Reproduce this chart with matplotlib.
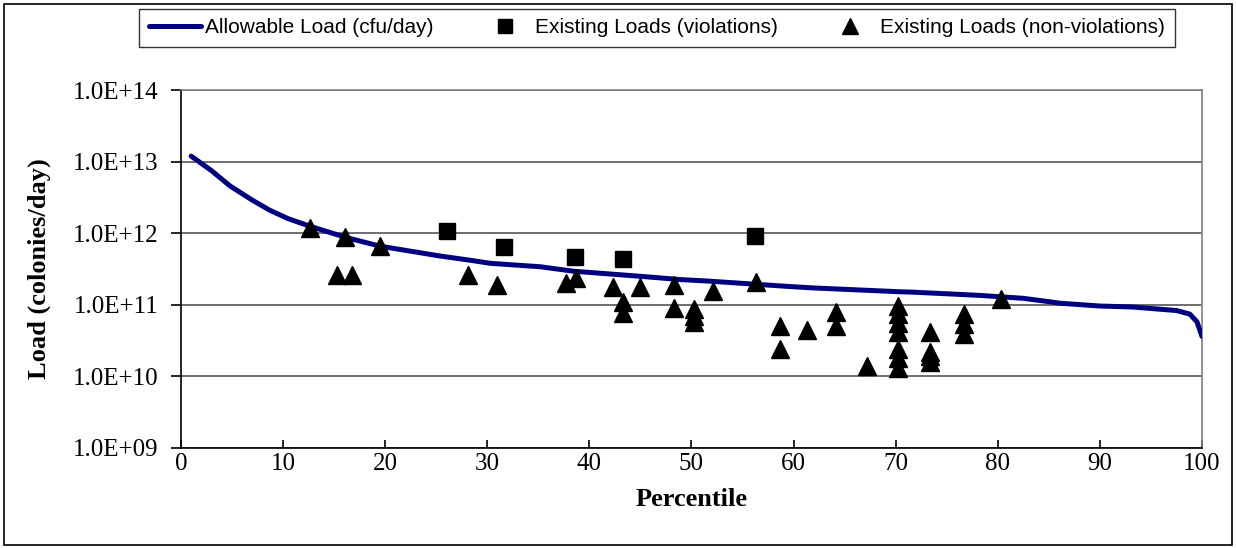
import numpy as np
import matplotlib
matplotlib.use("Agg")
import matplotlib.pyplot as plt
from matplotlib.patches import Rectangle

# Allowable load duration curve (cfu/day) vs percentile
curve_pct = [1.0, 3.0, 4.8, 7.0, 8.7, 10.5, 12.6, 16.2, 19.5, 25.4, 28.3, 30.3, 35.2,
             38.4, 45.0, 48.9, 51.5, 59.6, 61.9, 70.4, 71.7, 77.0, 78.3, 82.5, 85.1,
             86.1, 90.0, 93.2, 97.5, 98.8, 99.5, 100.0]
curve_load = [1.2e13, 7.5e12, 4.6e12, 2.9e12, 2.1e12, 1.6e12, 1.26e12, 8.7e11, 6.6e11,
              4.8e11, 4.2e11, 3.8e11, 3.4e11, 2.95e11, 2.5e11, 2.25e11, 2.15e11, 1.8e11,
              1.72e11, 1.52e11, 1.5e11, 1.38e11, 1.35e11, 1.23e11, 1.1e11, 1.05e11,
              9.6e10, 9.3e10, 8.3e10, 7.4e10, 5.8e10, 3.6e10]

# Existing loads exceeding the standard
viol_pct = [26.1, 31.6, 38.6, 43.3, 56.2]
viol_load = [1.07e12, 6.4e11, 4.6e11, 4.4e11, 9.3e11]

# Existing loads below the standard
nonviol_pct = [12.6, 16.1, 15.3, 16.8, 19.5, 28.1, 31.0, 37.7, 38.7, 42.3, 43.3, 43.3,
               45.0, 48.3, 48.3, 50.2, 50.2, 50.2, 52.1, 56.3, 58.7, 58.7, 61.3,
               64.2, 64.2, 67.2, 70.2, 70.2, 70.2, 70.2, 70.2, 70.2, 70.2,
               73.4, 73.4, 73.4, 73.4, 76.7, 76.7, 76.7, 80.3]
nonviol_load = [1.2e12, 8.9e11, 2.6e11, 2.6e11, 6.6e11, 2.6e11, 1.9e11, 2.0e11, 2.4e11,
                1.8e11, 1.1e11, 7.6e10, 1.8e11, 1.9e11, 9.1e10, 8.8e10, 6.9e10, 5.8e10,
                1.55e11, 2.1e11, 5.1e10, 2.4e10, 4.4e10, 7.8e10, 5.0e10, 1.4e10,
                9.5e10, 7.4e10, 5.6e10, 4.1e10, 2.4e10, 1.8e10, 1.3e10,
                4.1e10, 2.2e10, 1.9e10, 1.6e10, 7.4e10, 5.4e10, 3.9e10, 1.2e11]

y_ticks = [1e9, 1e10, 1e11, 1e12, 1e13, 1e14]
y_tick_labels = ["1.0E+09", "1.0E+10", "1.0E+11", "1.0E+12", "1.0E+13", "1.0E+14"]
x_ticks = list(range(0, 101, 10))

fig = plt.figure(figsize=(12.36, 5.48), dpi=100)
ax = fig.add_axes([0.1464, 0.183, 0.8261, 0.6522])

ax.plot(curve_pct, curve_load, color="#000080", lw=3.6, solid_capstyle="round",
        solid_joinstyle="round", label="Allowable Load (cfu/day)", zorder=3)
ax.plot(viol_pct, viol_load, ls="none", marker="s", ms=12, color="black",
        label="Existing Loads (violations)", zorder=4)
ax.plot(nonviol_pct, nonviol_load, ls="none", marker="^", ms=13, color="black",
        label="Existing Loads (non-violations)", zorder=4)

ax.set_yscale("log")
ax.set_ylim(1e9, 1e14)
ax.set_xlim(0, 100)
ax.set_yticks(y_ticks)
ax.set_yticklabels(y_tick_labels)
ax.minorticks_off()
ax.set_xticks(x_ticks)
ax.yaxis.grid(True, color="#555555", lw=1.2)
ax.set_axisbelow(True)

for s in ["top", "right"]:
    ax.spines[s].set_color("#808080")
    ax.spines[s].set_linewidth(1.2)
for s in ["left", "bottom"]:
    ax.spines[s].set_color("black")
    ax.spines[s].set_linewidth(1.2)

ax.tick_params(axis="y", direction="out", length=7, width=1.2, pad=9)
ax.tick_params(axis="x", direction="in", length=6, width=1.2, pad=4)
for lbl in ax.get_xticklabels() + ax.get_yticklabels():
    lbl.set_fontfamily("Liberation Serif")
    lbl.set_fontsize(18)

ax.set_xlabel("Percentile", fontfamily="Liberation Serif", fontweight="bold",
              fontsize=19, labelpad=9)
ax.set_ylabel("Load (colonies/day)", fontfamily="Liberation Serif", fontweight="bold",
              fontsize=19, labelpad=16)

leg = fig.legend(loc="center", bbox_to_anchor=(0.5315, 0.949), ncol=3, frameon=True,
                 fancybox=False, edgecolor="black", handlelength=2.5, handletextpad=0.2,
                 columnspacing=2.2, prop={"family": "Liberation Sans", "size": 15},
                 borderpad=0.45, markerscale=0.85)
leg.get_frame().set_linewidth(1.0)

fig.patches.append(Rectangle((0.003, 0.006), 0.994, 0.987, transform=fig.transFigure,
                             fill=False, edgecolor="black", lw=1.2))

fig.savefig("out.png", dpi=100)
